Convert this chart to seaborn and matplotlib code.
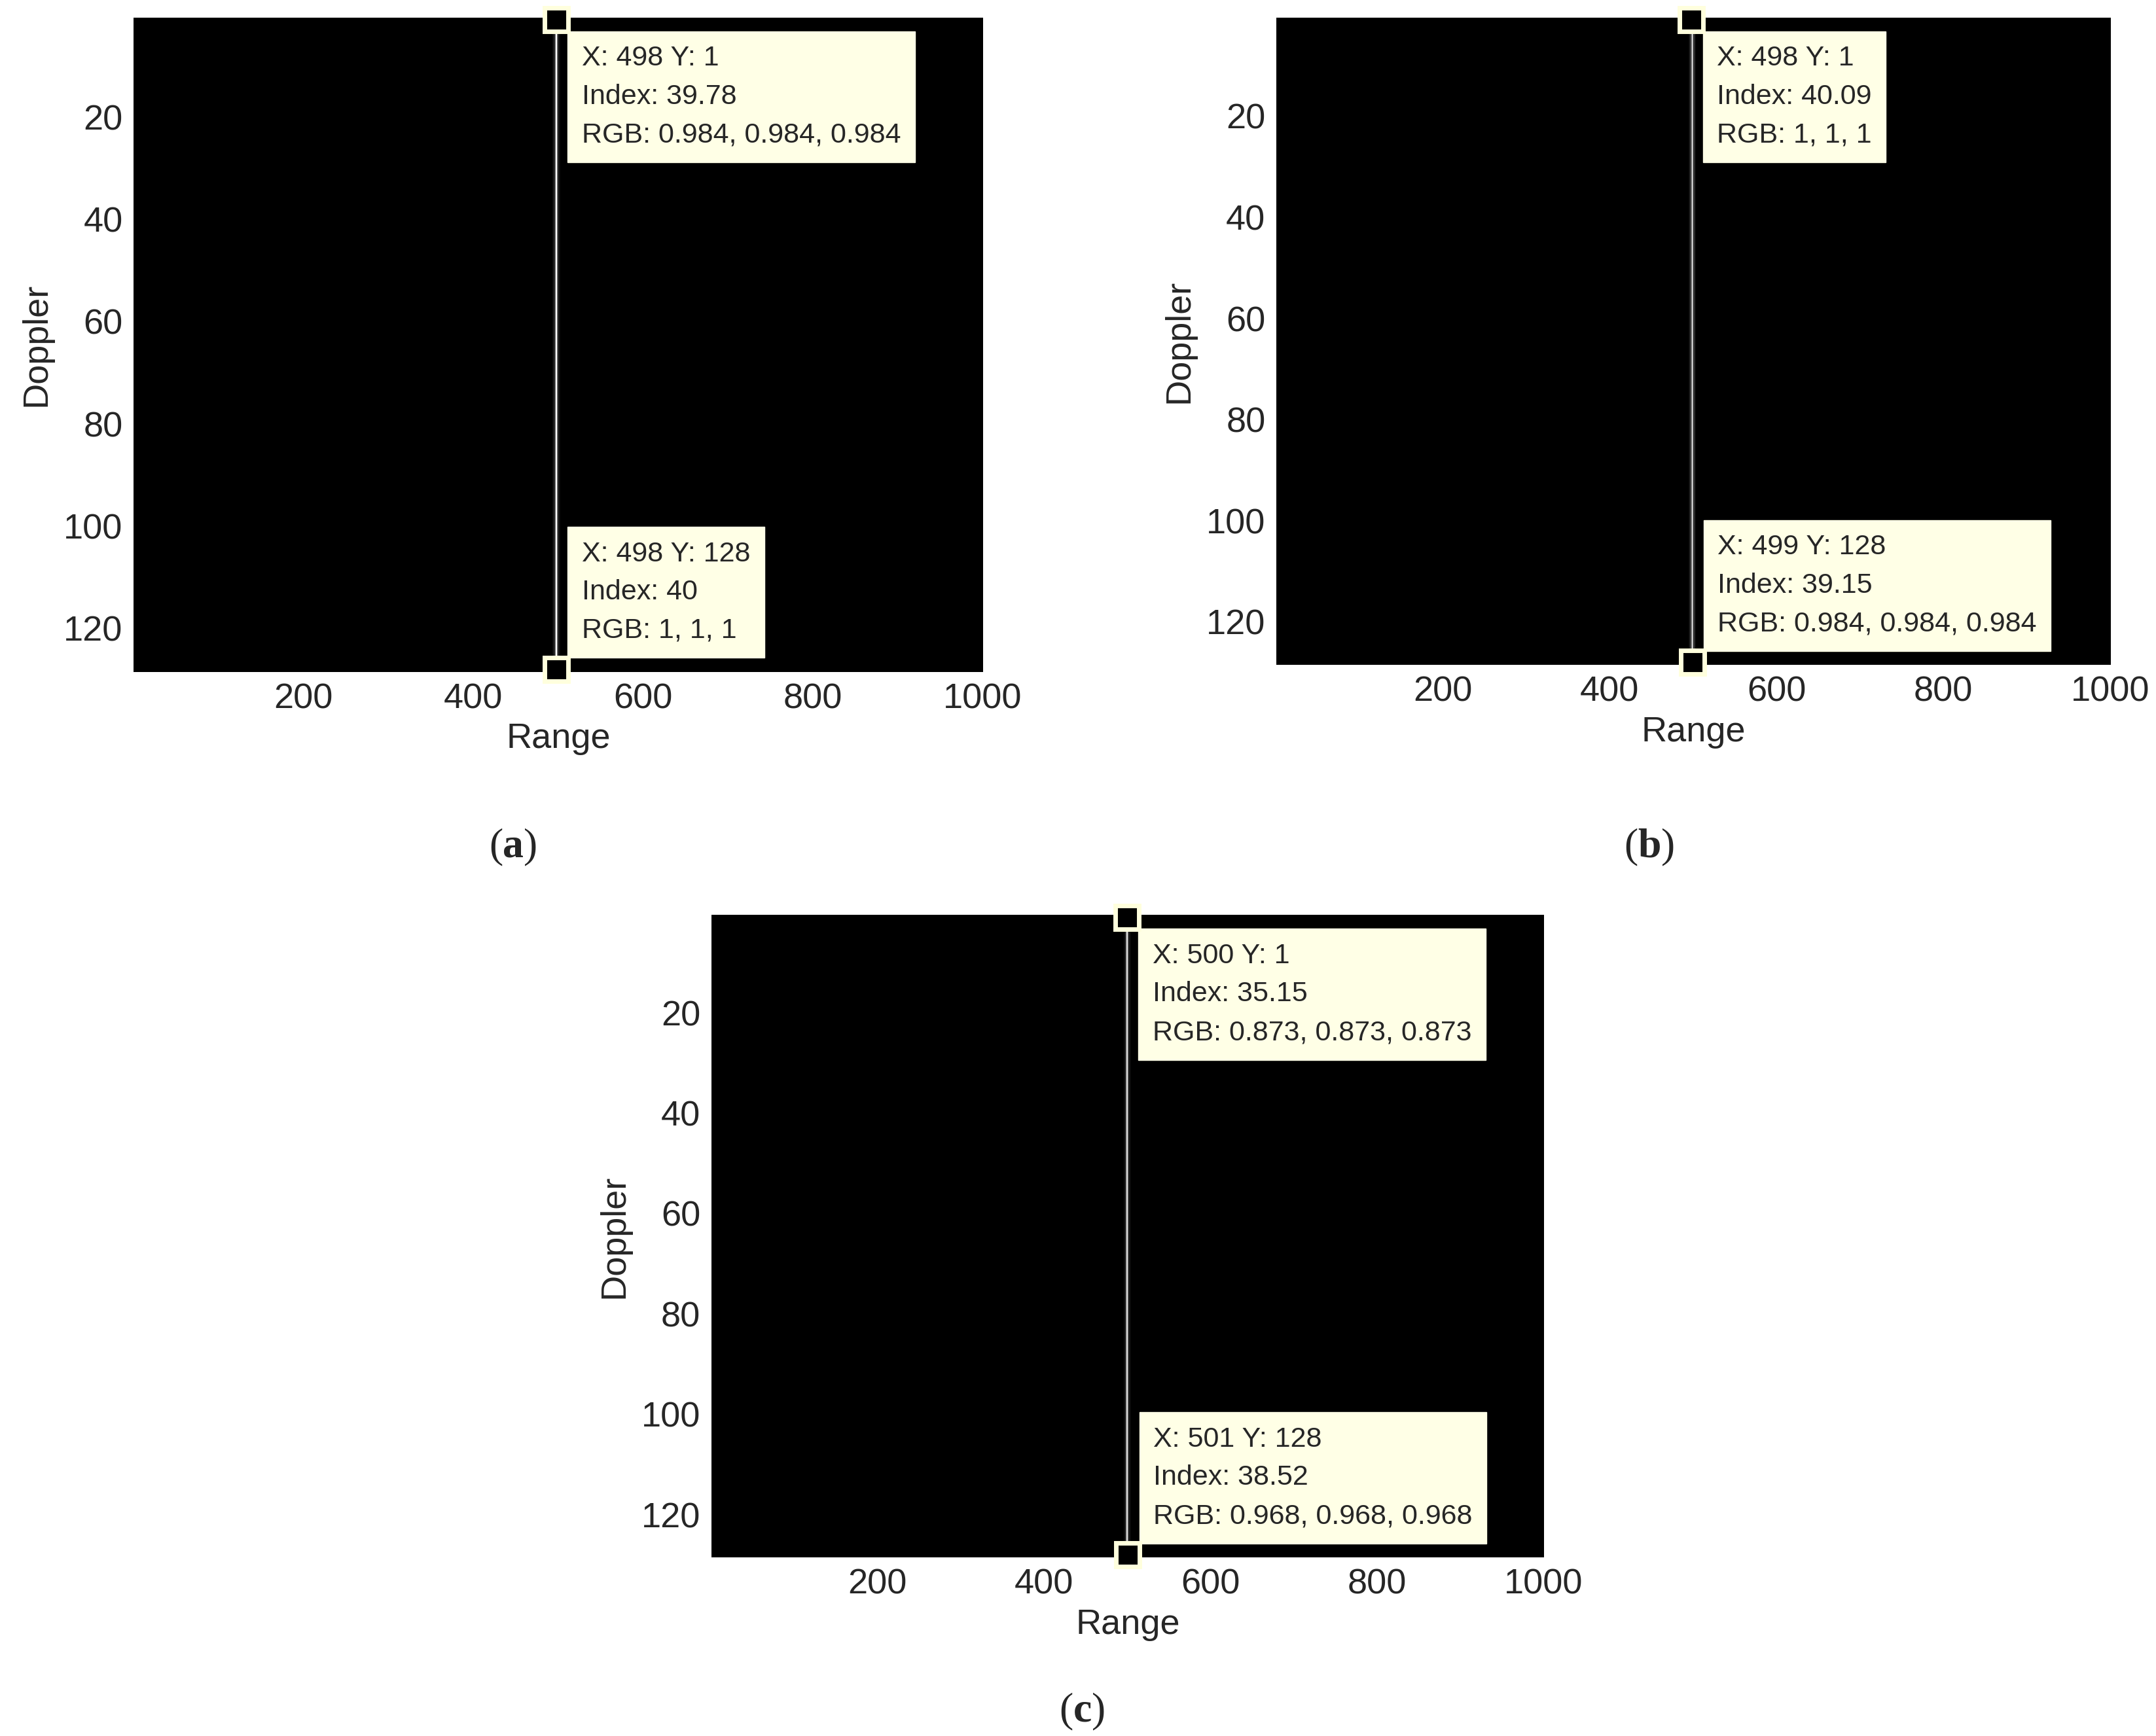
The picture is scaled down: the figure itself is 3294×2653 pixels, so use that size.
import numpy as np
import matplotlib
matplotlib.use("Agg")
import matplotlib.pyplot as plt
import seaborn as sns

sns.set_style("white")
plt.rcParams['font.family'] = ['Liberation Sans', 'DejaVu Sans']

# data
n_doppler = 128
n_range = 1000
peak_cols = [498, 499, 500]                 # per panel
profile_offsets = [-4, -3, -2, -1, 0, 1, 2, 3, 4]
profile_vals = [
    [2, 4, 8, 18, 39.8, 18, 8, 4, 2],
    [2, 4, 9, 20, 40.0, 20, 9, 4, 2],
    [1, 3, 7, 15, 35.5, 15, 7, 3, 1],
]
tips = [
    [(498, 1, "X: 498 Y: 1\nIndex: 39.78\nRGB: 0.984, 0.984, 0.984"),
     (498, 128, "X: 498 Y: 128\nIndex: 40\nRGB: 1, 1, 1")],
    [(498, 1, "X: 498 Y: 1\nIndex: 40.09\nRGB: 1, 1, 1"),
     (499, 128, "X: 499 Y: 128\nIndex: 39.15\nRGB: 0.984, 0.984, 0.984")],
    [(500, 1, "X: 500 Y: 1\nIndex: 35.15\nRGB: 0.873, 0.873, 0.873"),
     (501, 128, "X: 501 Y: 128\nIndex: 38.52\nRGB: 0.968, 0.968, 0.968")],
]
captions = ["a", "b", "c"]
xticks = [200, 400, 600, 800, 1000]
yticks = [20, 40, 60, 80, 100, 120]

fig = plt.figure(figsize=(32.94, 26.53), dpi=100)
rects = [
    [0.062, 0.613, 0.394, 0.377],
    [0.592, 0.617, 0.387, 0.373],
    [0.330, 0.103, 0.386, 0.370],
]
cap_pos = [(0.238, 0.512), (0.765, 0.512), (0.502, 0.014)]

for i in range(3):
    ax = fig.add_axes(rects[i])
    M = np.zeros((n_doppler, n_range))
    for off, v in zip(profile_offsets, profile_vals[i]):
        M[:, peak_cols[i] - 1 + off] = v
    sns.heatmap(M, ax=ax, cmap="gray", vmin=0, vmax=40, cbar=False,
                xticklabels=False, yticklabels=False, rasterized=True)
    ax.set_xticks([v - 0.5 for v in xticks])
    ax.set_xticklabels([str(v) for v in xticks], fontsize=39, rotation=0)
    ax.set_yticks([v - 0.5 for v in yticks])
    ax.set_yticklabels([str(v) for v in yticks], fontsize=39, rotation=0)
    ax.tick_params(length=0, pad=12)
    ax.set_xlabel("Range", fontsize=39, labelpad=8)
    ax.set_ylabel("Doppler", fontsize=39, labelpad=12)
    for s in ax.spines.values():
        s.set_visible(False)
    for j, (tx, ty, txt) in enumerate(tips[i]):
        px, py = tx - 0.5, ty - 0.5
        ax.plot([px], [py], marker="s", markersize=26, markerfacecolor="black",
                markeredgecolor="#FFFFDD", markeredgewidth=5, clip_on=False, zorder=8)
        kw = dict(textcoords="offset points", ha="left", fontsize=31, linespacing=1.6,
                  bbox=dict(boxstyle="square,pad=0.5", fc="#FFFFE6", ec="#FFFFE6"),
                  annotation_clip=False, zorder=6)
        if j == 0:
            ax.annotate(txt, (px, py), xytext=(28, -28), va="top", **kw)
        else:
            ax.annotate(txt, (px, py), xytext=(28, 28), va="bottom", **kw)
    t = fig.text(cap_pos[i][0], cap_pos[i][1], captions[i], fontsize=46,
                 family="Liberation Serif", weight="bold", ha="center", va="center")
    ax.annotate("(", xy=(0, 0.5), xycoords=t, ha="right", va="center",
                fontsize=46, family="Liberation Serif", annotation_clip=False)
    ax.annotate(")", xy=(1, 0.5), xycoords=t, ha="left", va="center",
                fontsize=46, family="Liberation Serif", annotation_clip=False)

fig.savefig("out.png", dpi=100, facecolor="white")
